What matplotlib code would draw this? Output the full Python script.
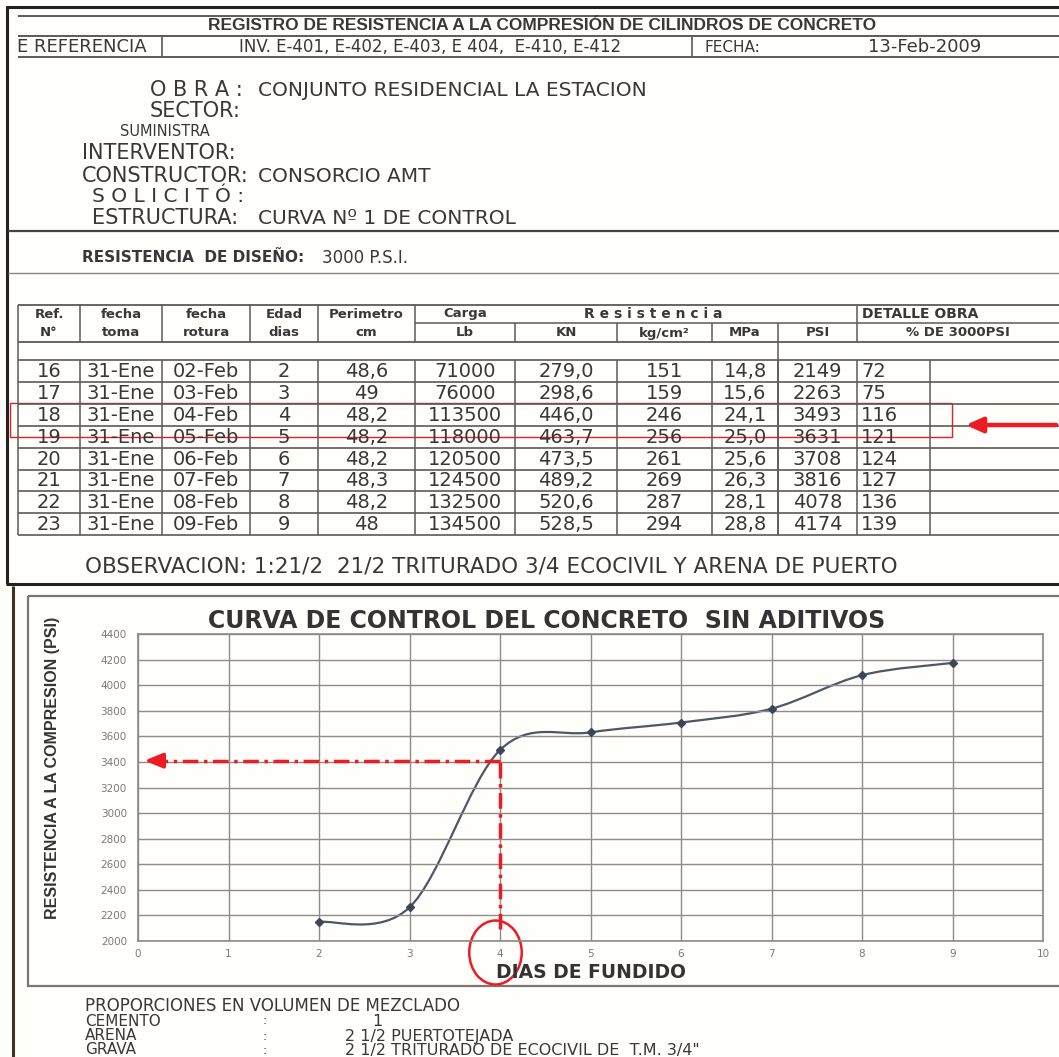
import matplotlib
matplotlib.use("Agg")
import matplotlib.pyplot as plt
from matplotlib import font_manager
from matplotlib.patches import Rectangle, Ellipse, PathPatch
from matplotlib.path import Path

# ---- data ----
ref_n = ["16", "17", "18", "19", "20", "21", "22", "23"]
fecha_toma = ["31-Ene"] * 8
fecha_rotura = ["02-Feb", "03-Feb", "04-Feb", "05-Feb", "06-Feb", "07-Feb", "08-Feb", "09-Feb"]
edad_dias = [2, 3, 4, 5, 6, 7, 8, 9]
perimetro = ["48,6", "49", "48,2", "48,2", "48,2", "48,3", "48,2", "48"]
carga_lb = ["71000", "76000", "113500", "118000", "120500", "124500", "132500", "134500"]
kn = ["279,0", "298,6", "446,0", "463,7", "473,5", "489,2", "520,6", "528,5"]
kg_cm2 = ["151", "159", "246", "256", "261", "269", "287", "294"]
mpa = ["14,8", "15,6", "24,1", "25,0", "25,6", "26,3", "28,1", "28,8"]
psi = [2149, 2263, 3493, 3631, 3708, 3816, 4078, 4174]
pct = ["72", "75", "116", "121", "124", "127", "136", "139"]

header1 = ["Ref.", "fecha", "fecha", "Edad", "Perimetro", "Carga"]
header2 = ["N°", "toma", "rotura", "dias", "cm", "Lb", "KN", "kg/cm²", "MPa", "PSI", "% DE 3000PSI"]

x_ticks = list(range(0, 11))
y_ticks = list(range(2000, 4401, 200))
lectura_psi = 3410   # value marked by the red guide at day 4

names = {f.name for f in font_manager.fontManager.ttflist}
ARIAL = "Liberation Sans" if "Liberation Sans" in names else "DejaVu Sans"
NARROW = "Liberation Sans Narrow" if "Liberation Sans Narrow" in names else ARIAL
WIDE = "DejaVu Sans"

INK = "#383838"
LINE = "#5a5a5a"
RED = "#ec1c24"

fig = plt.figure(figsize=(10.59, 10.57), dpi=100)
fig.patch.set_facecolor("#fffefa")

# page layer in pixel coordinates
pg = fig.add_axes([0, 0, 1, 1])
pg.set_xlim(0, 1059)
pg.set_ylim(1057, 0)
pg.axis("off")


def hl(y, x0, x1, lw=1.0, c=LINE):
    pg.plot([x0, x1], [y, y], color=c, lw=lw, solid_capstyle="butt")


def vl(x, y0, y1, lw=1.0, c=LINE):
    pg.plot([x, x], [y0, y1], color=c, lw=lw, solid_capstyle="butt")


def txt(x, y, s, size=12, ha="left", family=WIDE, weight="normal", **kw):
    pg.text(x, y, s, fontsize=size, ha=ha, va="center", family=family,
            weight=weight, color=INK, **kw)


# outer frame of the top document
vl(7, 6, 584, lw=2.2, c="#222222")
hl(7, 6, 1059, lw=2.2, c="#222222")
hl(584, 6, 1059, lw=2.2, c="#222222")

# header box
hl(16, 18, 1059, lw=1.4)
hl(36, 18, 1059, lw=1.4)
hl(57, 18, 1059, lw=1.4)
for xx in [162, 692]:
    vl(xx, 36, 57, lw=1.2)
txt(542, 26, "REGISTRO DE RESISTENCIA A LA COMPRESIÓN DE CILINDROS DE CONCRETO",
    size=12.5, ha="center", family=ARIAL, weight="bold")
txt(17, 47, "E REFERENCIA", size=13)
txt(430, 47, "INV. E-401, E-402, E-403, E 404,  E-410, E-412", size=12, ha="center")
txt(705, 47, "FECHA:", size=11)
txt(925, 47, "13-Feb-2009", size=13, ha="center")

# project info
txt(150, 90, "O B R A :", size=15)
txt(258, 90, "CONJUNTO RESIDENCIAL LA ESTACION", size=14.5)
txt(150, 111, "SECTOR:", size=15)
txt(120, 132, "SUMINISTRA", size=10.5)
txt(82, 153, "INTERVENTOR:", size=15)
txt(82, 176, "CONSTRUCTOR:", size=15)
txt(258, 176, "CONSORCIO AMT", size=14.5)
txt(92, 197, "S O L I C I T Ó :", size=14.5)
txt(92, 218, "ESTRUCTURA:", size=15)
txt(258, 219, "CURVA Nº 1 DE CONTROL", size=14.5)
hl(231, 8, 1059, lw=1.6, c="#444444")
txt(82, 258, "RESISTENCIA  DE DISEÑO:", size=11, weight="bold")
txt(322, 258, "3000 P.S.I.", size=12)
hl(273, 8, 1059, lw=1.0, c="#888888")

# results table
edges = [18, 80, 162, 250, 318, 415, 515, 617, 712, 778, 857, 1059]
t_top, t_mid, t_hdr, t_body = 305, 323, 342, 360
row_h = 21.9
t_bot = t_body + row_h * len(psi)

hl(t_top, 18, 1059, lw=1.3)
hl(t_mid, 415, 1059, lw=1.1)
hl(t_hdr, 18, 1059, lw=1.3)
for xx in edges[:6] + [857]:
    vl(xx, t_top, t_hdr, lw=1.1)
for xx in edges[6:10]:
    vl(xx, t_mid, t_hdr, lw=1.1)
vl(18, t_hdr, t_body, lw=1.1)
vl(778, t_hdr, t_bot, lw=1.1)
for i in range(len(psi) + 1):
    hl(t_body + i * row_h, 18, 1059, lw=1.2)
for xx in edges[:-1] + [930]:
    vl(xx, t_body, t_bot, lw=1.1)

for i, h in enumerate(header1):
    txt((edges[i] + edges[i + 1]) / 2, 314, h, size=9.5, ha="center", weight="bold")
txt(653, 314, "R e s i s t e n c i a", size=10, ha="center", weight="bold")
txt(862, 314, "DETALLE OBRA", size=10, weight="bold")
for i, h in enumerate(header2):
    txt((edges[i] + edges[i + 1]) / 2, 333, h, size=9.5, ha="center", weight="bold")

columns = [ref_n, fecha_toma, fecha_rotura, [str(e) for e in edad_dias], perimetro,
           carga_lb, kn, kg_cm2, mpa, [str(p) for p in psi]]
for r in range(len(psi)):
    yc = t_body + (r + 0.5) * row_h + 0.5
    for c, col in enumerate(columns):
        txt((edges[c] + edges[c + 1]) / 2, yc, col[r], size=14, ha="center")
    txt(861, yc, pct[r], size=14)

# red highlight around rows 18-19
pg.add_patch(Rectangle((10, 403), 942, 34, fill=False, ec=RED, lw=1.0))
pg.annotate("", xy=(963, 425), xytext=(1059, 425),
            arrowprops=dict(arrowstyle="-|>,head_width=0.45,head_length=1.0",
                            color=RED, lw=3.2))

txt(85, 566, "OBSERVACION: 1:21/2  21/2 TRITURADO 3/4 ECOCIVIL Y ARENA DE PUERTO", size=15.5)

# lower document frame
vl(13, 586, 1057, lw=2.2, c="#3b3325")
pg.add_patch(Rectangle((28, 596), 1040, 390, fill=False, ec="#777777", lw=1.6))

txt(85, 1006, "PROPORCIONES EN VOLUMEN DE MEZCLADO", size=12)
txt(85, 1021, "CEMENTO", size=11)
txt(262, 1021, ":", size=9)
txt(372, 1021, "1", size=11.5)
txt(85, 1036, "ARENA", size=11)
txt(262, 1036, ":", size=9)
txt(345, 1036, "2 1/2 PUERTOTEJADA", size=11.5)
txt(85, 1050, "GRAVA", size=11)
txt(262, 1050, ":", size=9)
txt(345, 1050, "2 1/2 TRITURADO DE ECOCIVIL DE  T.M. 3/4\"", size=11.5)

# ---- chart ----
W, H = 1059.0, 1057.0
ax = fig.add_axes([138 / W, 1 - 941 / H, (1043 - 138) / W, (941 - 634) / H])
ax.set_facecolor("none")
ax.set_xlim(0, 10)
ax.set_ylim(2000, 4400)
ax.set_xticks(x_ticks)
ax.set_yticks(y_ticks)
ax.grid(True, color="#8c8c8c", lw=1.0)
ax.tick_params(length=0, labelsize=7.5, labelcolor="#7a7a7a", pad=8)
ax.tick_params(axis="x", pad=6)
for sp in ax.spines.values():
    sp.set_color("#8a8a8a")
    sp.set_linewidth(1.2)

# smoothed line through the points (Bezier segments, Excel style)
pts = list(zip(edad_dias, psi))
verts = [pts[0]]
codes = [Path.MOVETO]
for i in range(len(pts) - 1):
    p0 = pts[max(i - 1, 0)]
    p1 = pts[i]
    p2 = pts[i + 1]
    p3 = pts[min(i + 2, len(pts) - 1)]
    c1 = (p1[0] + (p2[0] - p0[0]) / 6, p1[1] + (p2[1] - p0[1]) / 6)
    c2 = (p2[0] - (p3[0] - p1[0]) / 6, p2[1] - (p3[1] - p1[1]) / 6)
    verts += [c1, c2, p2]
    codes += [Path.CURVE4] * 3
ax.add_patch(PathPatch(Path(verts, codes), fc="none", ec="#4d5866", lw=1.6))
ax.plot(edad_dias, psi, ls="none", marker="D", ms=4.5, color="#3b4756")

ax.set_title("CURVA DE CONTROL DEL CONCRETO  SIN ADITIVOS", family=WIDE,
             weight="bold", fontsize=17, color="#333333", pad=4, x=0.452)
ax.set_xlabel("DIAS DE FUNDIDO", family=WIDE, weight="bold", fontsize=13.5,
              color="#333333", labelpad=3)
ax.set_ylabel("RESISTENCIA A LA COMPRESION (PSI)", family=NARROW, weight="bold",
              fontsize=11.5, color="#333333")
ax.yaxis.set_label_coords(-0.086, 0.565)

# red dash-dot guide from day 4 to the strength axis
dashdot = (0, (4.5, 1.6, 1.0, 1.6))
ax.plot([4.0, 4.0], [2090, lectura_psi], color=RED, lw=2.5, ls=dashdot,
        dash_capstyle="butt", clip_on=False)
ax.plot([4.0, 0.2], [lectura_psi, lectura_psi], color=RED, lw=2.5, ls=dashdot,
        dash_capstyle="butt")
ax.annotate("", xy=(0.04, lectura_psi), xytext=(0.25, lectura_psi),
            arrowprops=dict(arrowstyle="-|>,head_width=0.45,head_length=1.1",
                            color=RED, lw=2.5))
ax.add_patch(Ellipse((3.95, 1910), 0.58, 500, fill=False, ec=RED, lw=1.8,
                     clip_on=False))

fig.savefig("out.png", dpi=100, facecolor=fig.get_facecolor())
